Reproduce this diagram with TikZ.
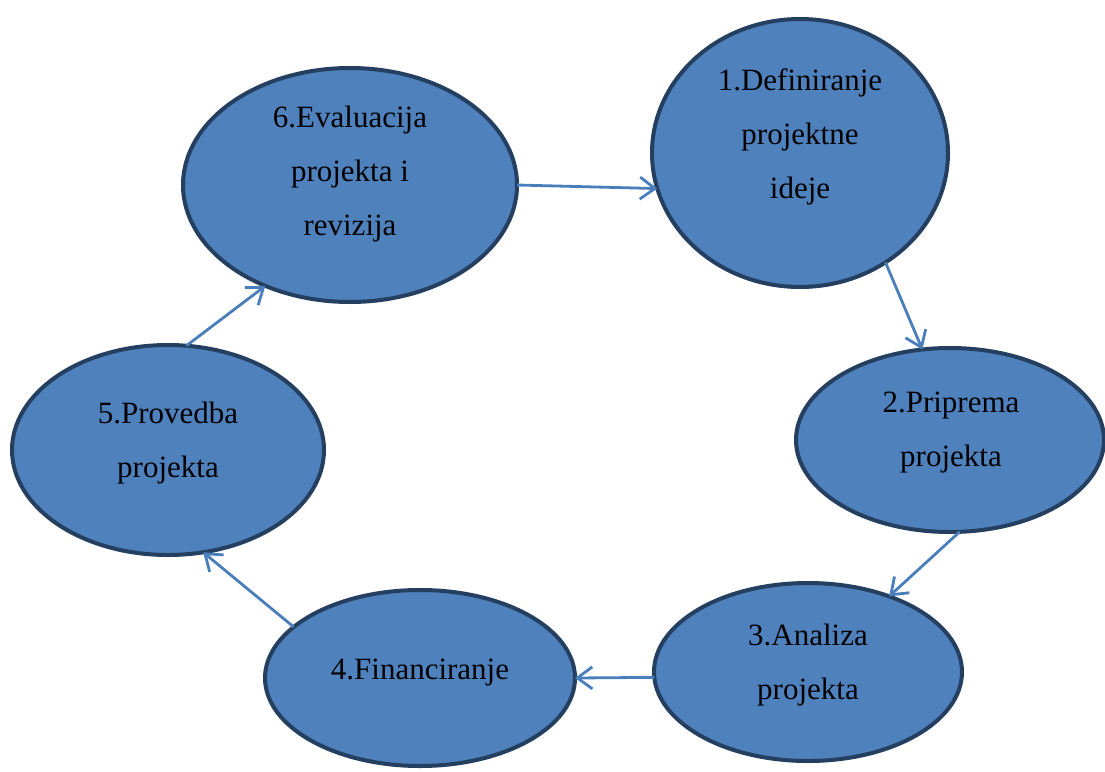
\documentclass[tikz,border=0pt]{standalone}
\usepackage{fontspec}
\setmainfont{Liberation Serif}
\usetikzlibrary{shapes.geometric,arrows.meta}
\definecolor{fazafill}{HTML}{4F81BD}
\definecolor{fazarub}{HTML}{243F60}
\definecolor{strelica}{HTML}{4A7EBB}
\tikzset{
  faza/.style={ellipse, draw=fazarub, fill=fazafill, line width=4pt,
    inner sep=0pt, outer sep=0pt},
  natpis/.style={align=center, font=\fontsize{31}{54}\selectfont},
  tok/.style={draw=strelica, line width=2.8pt,
    -{Straight Barb[length=15pt,width=22pt,line width=2.8pt]}}
}
\begin{document}
\begin{tikzpicture}[x=1pt,y=-1pt]
\useasboundingbox (0,0) rectangle (1105,771);
                % Define node positions
                \node[faza, minimum width=296pt, minimum height=268pt] (D) at (800,153) {};
                \node[faza, minimum width=308pt, minimum height=184pt] (P) at (950,440) {};
                \node[faza, minimum width=308pt, minimum height=178pt] (A) at (808,672) {};
                \node[faza, minimum width=310pt, minimum height=176pt] (F) at (420,678) {};
                \node[faza, minimum width=312pt, minimum height=210pt] (R) at (168,450) {};
                \node[faza, minimum width=334pt, minimum height=234pt] (E) at (350,185) {};

                % Text inside the phases
                \node[natpis] (tD) at (800,137) {1.Definiranje\\projektne\\ideje};
                \node[natpis] (tP) at (951,433) {2.Priprema\\projekta};
                \node[natpis] (tA) at (808,665) {3.Analiza\\projekta};
                \node[natpis] (tF) at (420,673) {4.Financiranje};
                \node[natpis] (tR) at (168,443) {5.Provedba\\projekta};
                \node[natpis] (tE) at (350,174) {6.Evaluacija\\projekta i\\revizija};

                % Draw arrows
                \draw[tok] (E.0) -- (D.194);
                \draw[tok] (D.308) -- (P.107);
                \draw[tok] (P.276) -- (A.43);
                \draw[tok] (A.182) -- (F.0);
                \draw[tok] (F.158) -- (R.289);
                \draw[tok] (R.80) -- (E.230);
\end{tikzpicture}
\end{document}
